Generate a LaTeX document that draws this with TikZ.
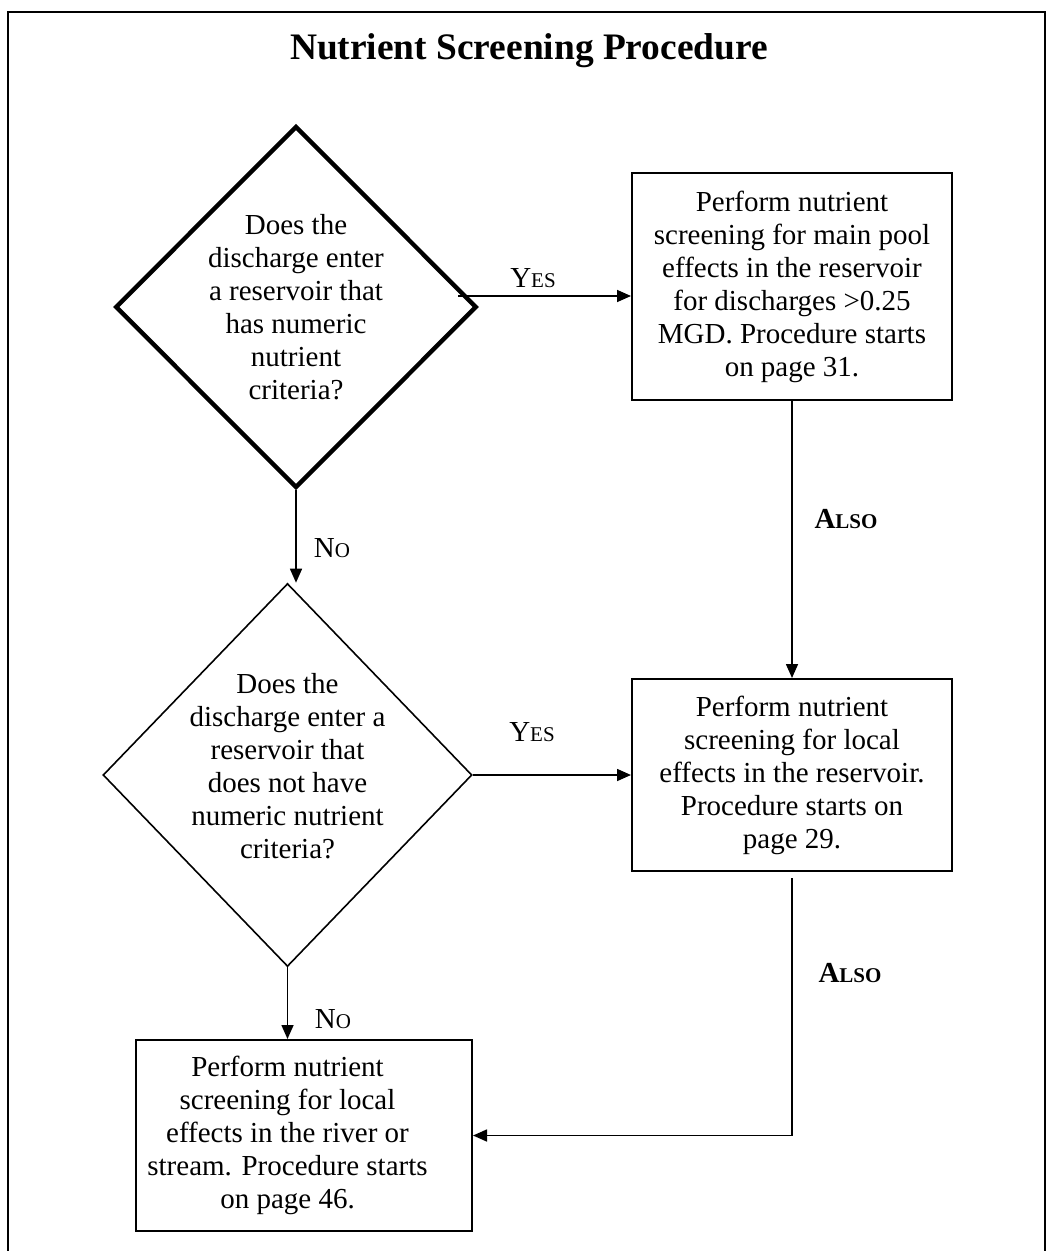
\documentclass[tikz,border=0pt]{standalone}
\usepackage{fontspec}
\setmainfont{Liberation Serif}
\usetikzlibrary{shapes.geometric,arrows.meta}
\newcommand{\fakesc}[2]{#1{\fontsize{10.5pt}{12pt}\selectfont #2}}

\begin{document}
\begin{tikzpicture}[
    x=0.5pt, y=-0.5pt,
    every node/.style={font=\fontsize{14.5pt}{16.5pt}\selectfont},
    decision/.style={diamond, draw, align=center, inner sep=0pt},
    process/.style={rectangle, draw, line width=1pt, align=center, inner sep=0pt, minimum width=160pt},
    boxtext/.style={align=center, inner sep=0pt},
    flow/.style={line width=0.8pt, -{Triangle[length=7pt, width=6pt]}},
    tag/.style={font=\fontsize{14.5pt}{16.5pt}\selectfont\bfseries}
]
    \useasboundingbox (0,0) rectangle (1055,1251);

    % Frame and title
    \draw[line width=0.8pt] (8,1251) -- (8,12) -- (1045,12) -- (1045,1251);
    \node[font=\fontsize{18.7pt}{22pt}\selectfont\bfseries] (title) at (529,51) {Nutrient Screening Procedure};

    % Questions
    \node[decision, line width=2.2pt, minimum width=162pt, minimum height=181pt] (reservoirq) at (296,307)
        {Does the\\discharge enter\\a reservoir that\\has numeric\\nutrient\\criteria?};
    \node[decision, line width=0.8pt, minimum width=184.5pt, minimum height=191.5pt] (otherq) at (287.5,775) {};
    \node[boxtext] (otherqtext) at (287.5,766)
        {Does the\\discharge enter a\\reservoir that\\does not have\\numeric nutrient\\criteria?};

    % Procedures
    \node[process, minimum height=113.5pt] (mainpool) at (792,286.5)
        {Perform nutrient\\screening for main pool\\effects in the reservoir\\for discharges >0.25\\MGD. Procedure starts\\on page 31.};
    \node[process, minimum height=96pt] (localres) at (792,775)
        {Perform nutrient\\screening for local\\effects in the reservoir.\\Procedure starts on\\page 29.};
    \node[process, minimum width=168pt, minimum height=95.5pt] (river) at (304,1135.5) {};
    \node[boxtext] (rivertext) at (287.5,1135.5)
        {Perform nutrient\\screening for local\\effects in the river or\\stream. Procedure starts\\on page 46.};

    % Connectors
    \coordinate (yesone) at (458,296);
    \coordinate (alsox) at (792,0);
    \draw[flow] (yesone) -- (yesone -| mainpool.west);
    \draw[flow] (reservoirq.south) -- (reservoirq.south |- otherq.north);
    \draw[flow] (otherq.east) -- (otherq.east -| localres.west);
    \draw[flow] (otherq.south) -- (otherq.south |- river.north);
    \draw[flow] (mainpool.south -| alsox) -- (localres.north -| alsox);
    \draw[flow] ([yshift=-3pt]localres.south -| alsox) |- (river.east);

    % Answers
    \node (yesonelbl) at (533,278) {\fakesc{Y}{ES}};
    \node (yestwolbl) at (532,732) {\fakesc{Y}{ES}};
    \node (noonelbl) at (332,548) {\fakesc{N}{O}};
    \node (notwolbl) at (333,1019) {\fakesc{N}{O}};
    \node[tag] (alsoonelbl) at (846,519) {\fakesc{A}{LSO}};
    \node[tag] (alsotwolbl) at (850,973) {\fakesc{A}{LSO}};
\end{tikzpicture}
\end{document}
